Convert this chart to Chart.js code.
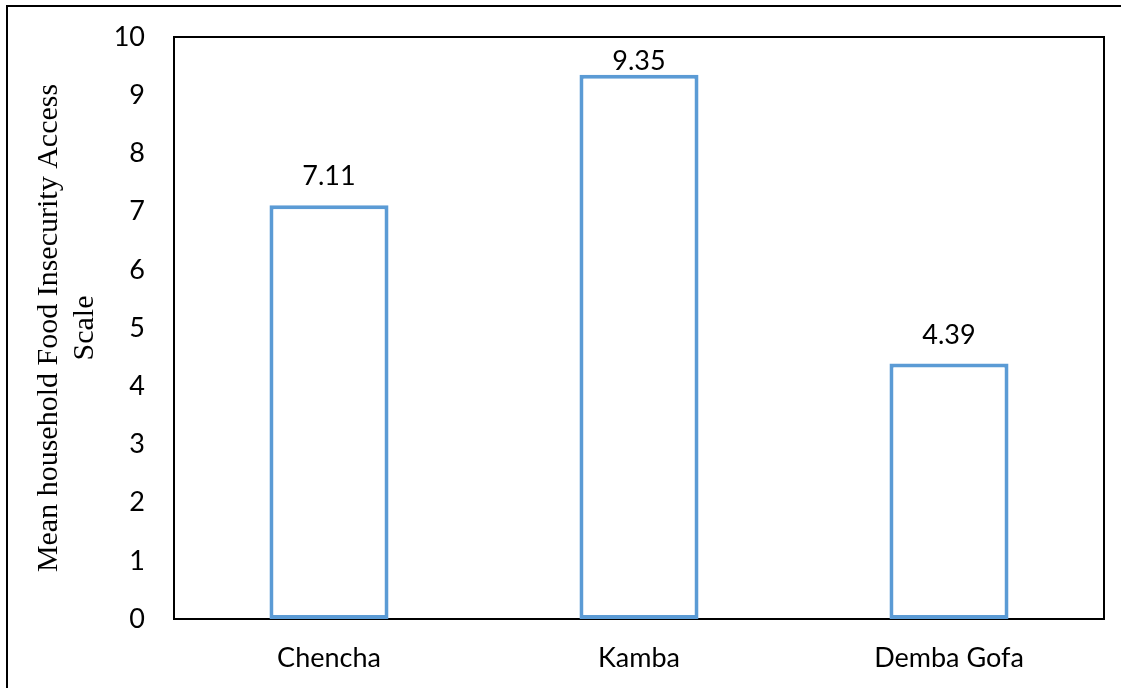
<!DOCTYPE html>
<html>
<head>
<meta charset="utf-8">
<script src="https://cdn.jsdelivr.net/npm/chart.js@4.4.0/dist/chart.umd.min.js"></script>
<style>
    body { margin: 0; background: #ffffff; }
    #wrap { width: 1121px; height: 688px; }
</style>
</head>
<body>
<div id="wrap"><canvas id="foodChart" width="1121" height="688"></canvas></div>
<script>
// chart data
var districts = ["Chencha", "Kamba", "Demba Gofa"];
var meanHfias = [7.11, 9.35, 4.39];
var yTicks = [0, 1, 2, 3, 4, 5, 6, 7, 8, 9, 10];
var yTitle = ["Mean household Food Insecurity Access", "Scale"];

var barBlue = "#5B9BD5";
var labelFont = { family: "Lato", size: 27 };

// outer frame + plot box
var framePlugin = {
    id: "framePlugin",
    beforeDatasetsDraw: function(chart) {
        var ctx = chart.ctx;
        var area = chart.chartArea;
        ctx.save();
        ctx.strokeStyle = "#000000";
        ctx.lineWidth = 2;
        ctx.strokeRect(area.left, area.top, area.right - area.left, area.bottom - area.top);
        ctx.beginPath();
        ctx.moveTo(7, chart.height);
        ctx.lineTo(7, 6);
        ctx.lineTo(chart.width, 6);
        ctx.stroke();
        ctx.restore();
    }
};

// value labels over bars
var valuePlugin = {
    id: "valuePlugin",
    afterDatasetsDraw: function(chart) {
        var ctx = chart.ctx;
        var meta = chart.getDatasetMeta(0);
        ctx.save();
        ctx.font = labelFont.size + "px " + labelFont.family;
        ctx.fillStyle = "#000000";
        ctx.textAlign = "center";
        ctx.textBaseline = "alphabetic";
        meta.data.forEach(function(bar, i) {
            var y = Math.max(bar.y - 20, chart.chartArea.top + 33);
            ctx.fillText(meanHfias[i].toFixed(2), bar.x, y);
        });
        ctx.restore();
    }
};

var ctx = document.getElementById("foodChart").getContext("2d");
const barChart = new Chart(ctx, {
    type: "bar",
    data: {
        labels: districts,
        datasets: [{
            data: meanHfias,
            backgroundColor: "#ffffff",
            borderColor: barBlue,
            borderWidth: 4,
            borderSkipped: false,
            categoryPercentage: 1,
            barPercentage: 0.384
        }]
    },
    options: {
        responsive: false,
        animation: false,
        layout: {
            padding: { top: 37, right: 17, bottom: 0, left: 0 }
        },
        plugins: {
            legend: { display: false },
            tooltip: { enabled: false }
        },
        scales: {
            x: {
                grid: { display: false, drawTicks: false },
                border: { display: false },
                ticks: { color: "#000000", font: labelFont, padding: 23, maxRotation: 0 },
                afterFit: function(scale) {
                    scale.height = 69;
                    scale.paddingLeft = 0;
                    scale.paddingRight = 0;
                }
            },
            y: {
                min: 0,
                max: 10,
                afterBuildTicks: function(scale) {
                    scale.ticks = yTicks.map(function(v) { return { value: v }; });
                },
                grid: { display: false, drawTicks: false },
                border: { display: false },
                ticks: { color: "#000000", font: labelFont, padding: 29 },
                title: {
                    display: true,
                    text: yTitle,
                    color: "#000000",
                    font: { family: "Liberation Serif", size: 30, lineHeight: 1.17 },
                    padding: { top: 32, bottom: 0 }
                },
                afterFit: function(scale) {
                    scale.width = 174;
                    scale.paddingTop = 0;
                    scale.paddingBottom = 0;
                }
            }
        }
    },
    plugins: [framePlugin, valuePlugin]
});
</script>
</body>
</html>
